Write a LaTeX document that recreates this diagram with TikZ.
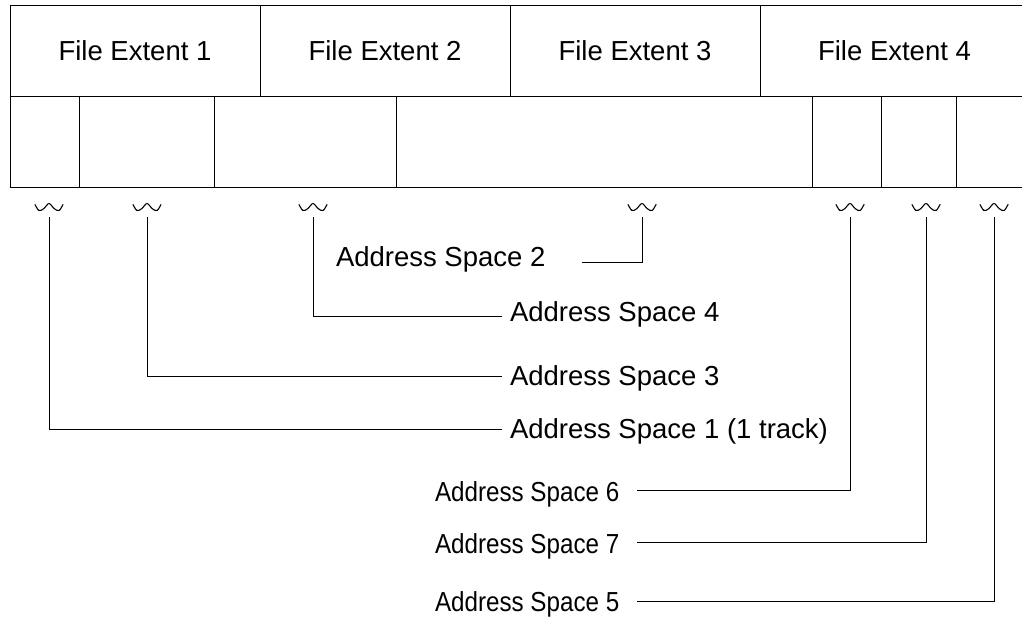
\documentclass[tikz,border=0pt]{standalone}
\usepackage{fontspec}
\setmainfont{Liberation Sans}
\begin{document}
\begin{tikzpicture}[x=1pt,y=-1pt,
  every node/.style={font=\fontsize{27.5}{33}\selectfont, inner sep=0pt, outer sep=0pt},
  cell/.style={draw, line width=0.8pt, anchor=north west, minimum height=91pt},
  lbl/.style={anchor=base west},
  narrow/.style={anchor=base west, xscale=0.88},
  conn/.style={line width=0.8pt},
  squig/.pic={\draw[line width=1.1pt, line cap=round] plot[smooth, tension=0.6] coordinates {(-14,-3) (-10,3) (-5,1) (0,-4) (5,1) (10,3) (14,-3)};}
]
\useasboundingbox (0,0) rectangle (1022,618);
\clip (0,0) rectangle (1022,618);
% file extents
\node[cell, minimum width=250pt] (fe1) at (10,5) {File Extent 1};
\node[cell, minimum width=250pt] (fe2) at (260,5) {File Extent 2};
\node[cell, minimum width=250pt] (fe3) at (510,5) {File Extent 3};
\node[cell, minimum width=269pt] (fe4) at (760,5) {File Extent 4};
% tracks
\node[cell, minimum width=69pt] (b1) at (10,96) {};
\node[cell, minimum width=135pt] (b2) at (79,96) {};
\node[cell, minimum width=182pt] (b3) at (214,96) {};
\node[cell, minimum width=416pt] (b4) at (396,96) {};
\node[cell, minimum width=69pt] (b5) at (812,96) {};
\node[cell, minimum width=75pt] (b6) at (881,96) {};
\node[cell, minimum width=73pt] (b7) at (956,96) {};
% squiggles
\foreach \n/\x in {1/49,3/147,4/313,2/642,6/850,7/926,5/994}{
  \pic at (\x,207.5) {squig};
  \coordinate (s\n) at (\x,217);
}
% labels
\node[lbl] (as2) at (336,266) {Address Space 2};
\node[lbl] (as4) at (510,321) {Address Space 4};
\node[lbl] (as3) at (510,385) {Address Space 3};
\node[lbl] (as1) at (510,438) {Address Space 1 (1 track)};
\node[narrow] (as6) at (435,501) {Address Space 6};
\node[narrow] (as7) at (435,553) {Address Space 7};
\node[narrow] (as5) at (435,611) {Address Space 5};
% connectors
\draw[conn] (s2) |- (582,262) coordinate (e2);
\draw[conn] (s4) |- (502,316) coordinate (e4);
\draw[conn] (s3) |- (502,376) coordinate (e3);
\draw[conn] (s1) |- (502,429) coordinate (e1);
\draw[conn] (s6) |- (637,490) coordinate (e6);
\draw[conn] (s7) |- (637,542) coordinate (e7);
\draw[conn] (s5) |- (637,601) coordinate (e5);
\end{tikzpicture}
\end{document}
